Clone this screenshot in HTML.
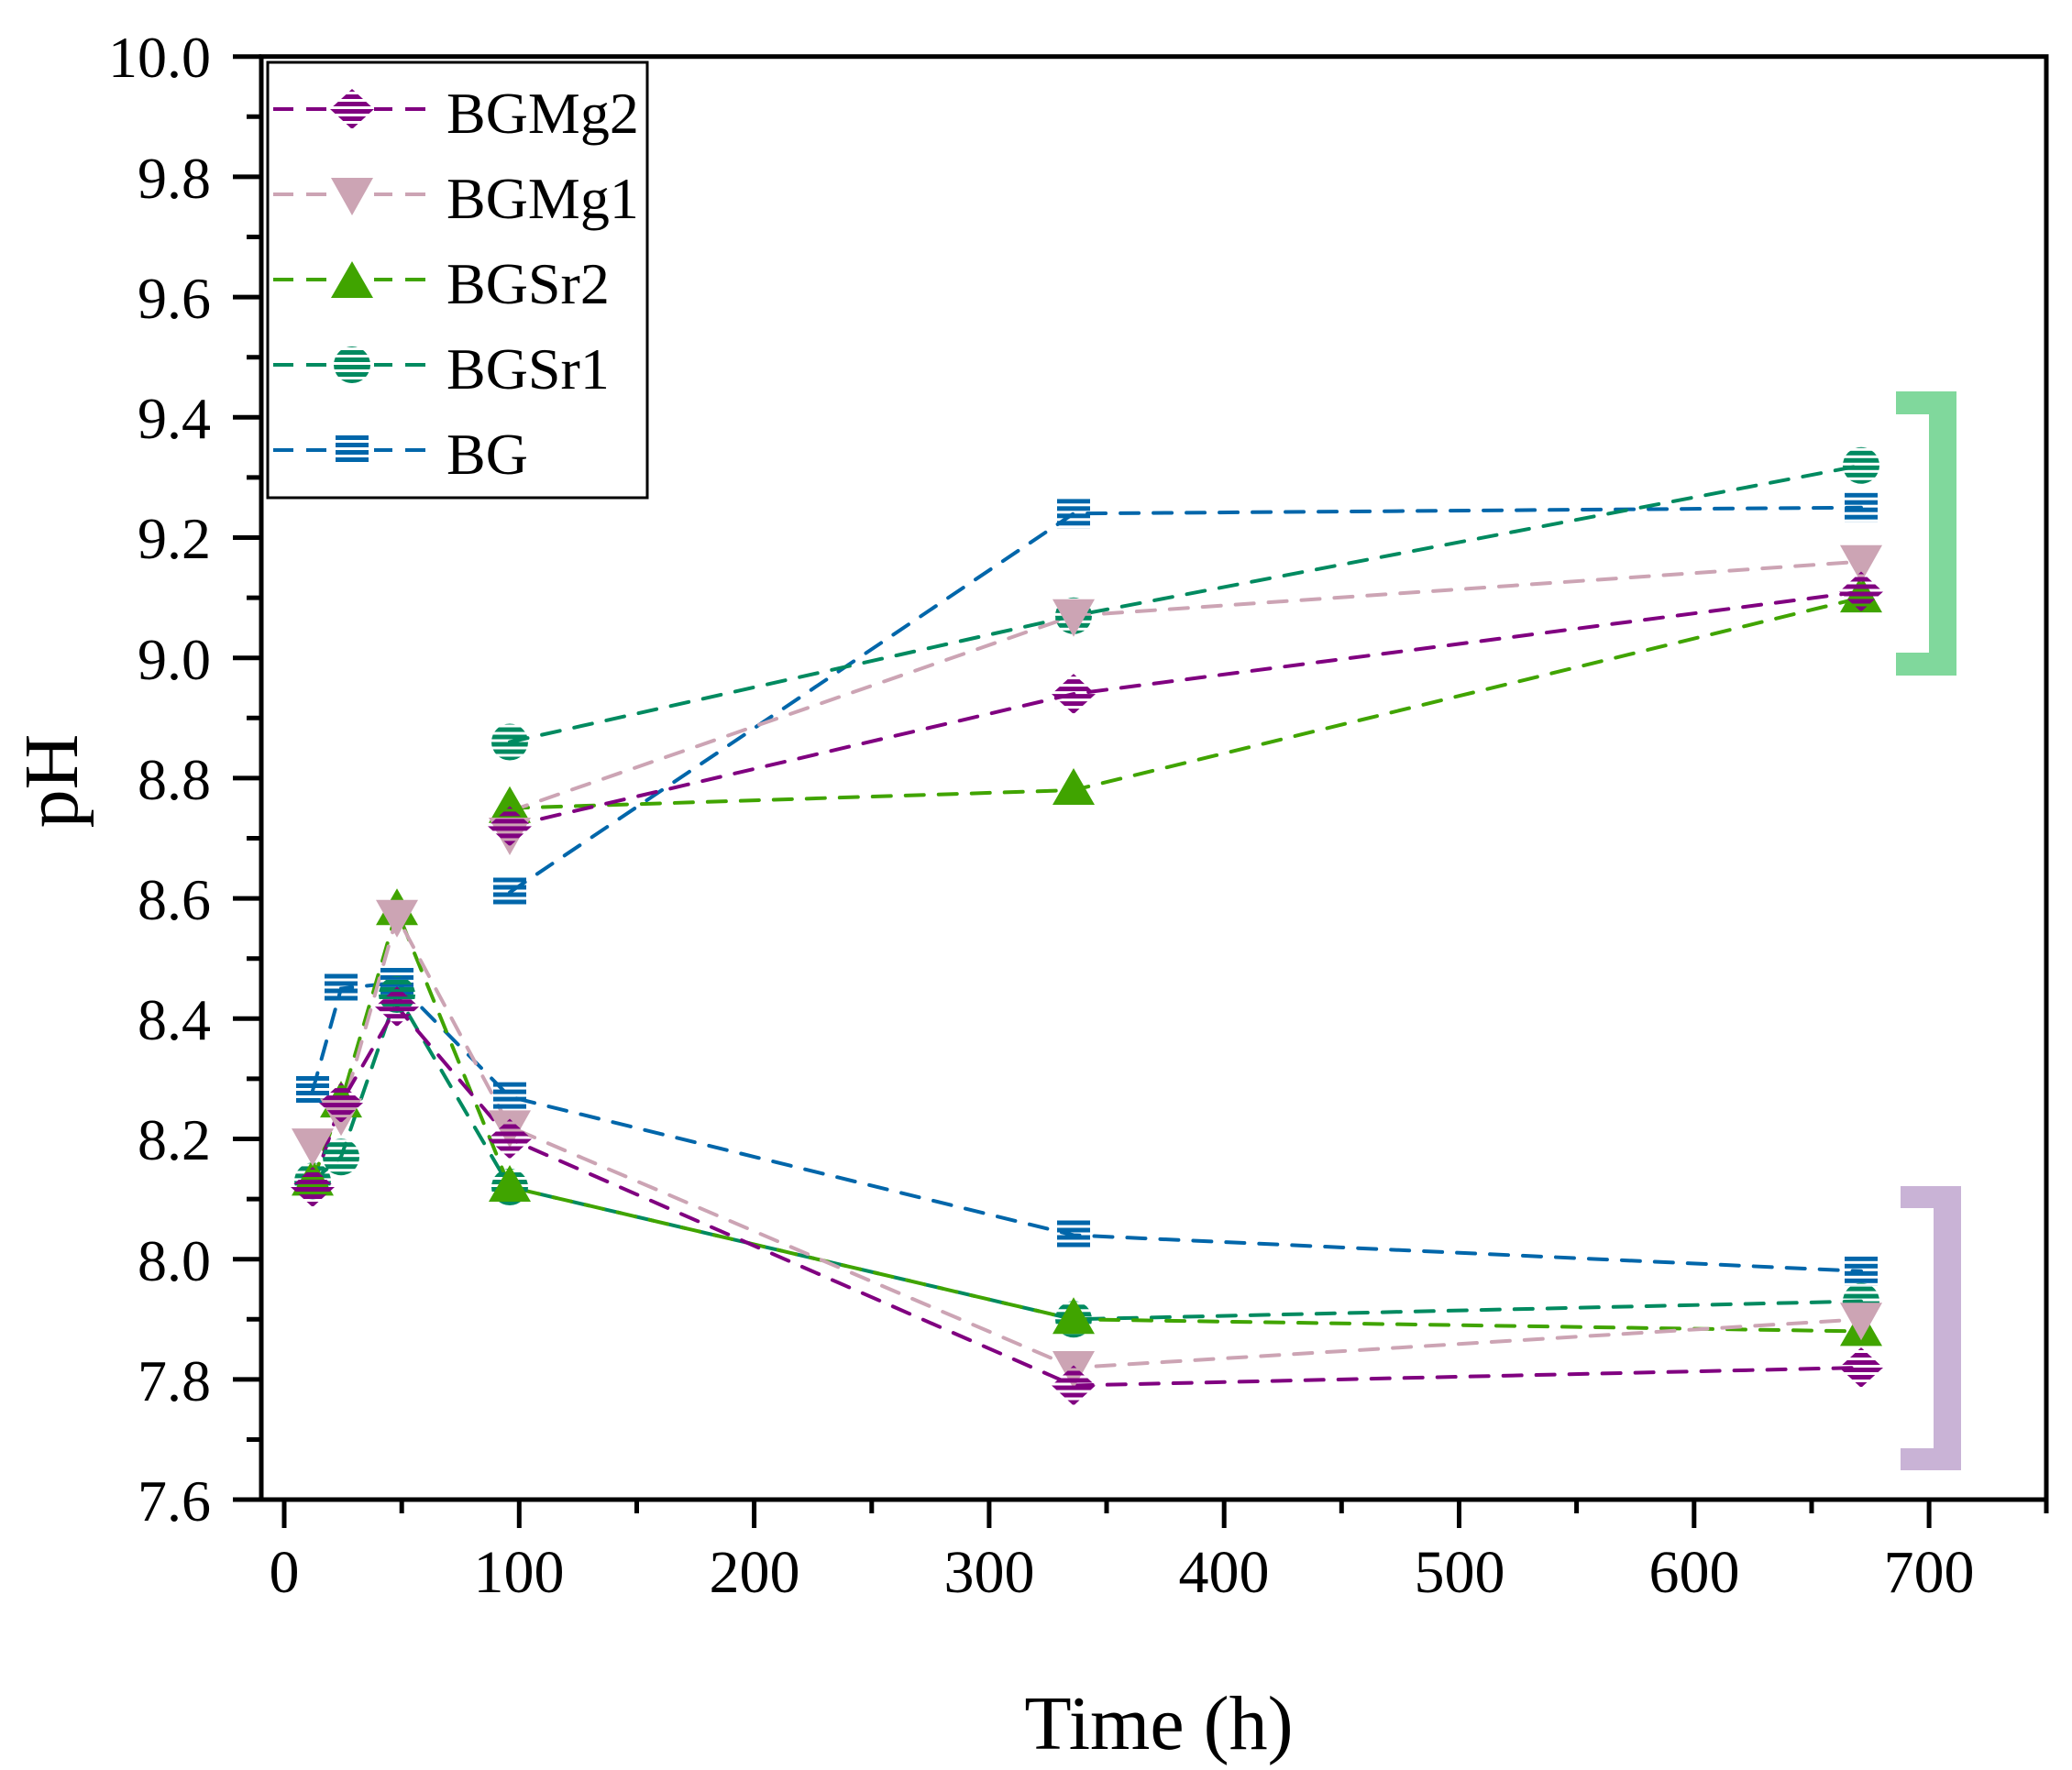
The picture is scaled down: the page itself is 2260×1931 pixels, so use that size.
<!DOCTYPE html>
<html><head><meta charset="utf-8"><style>
html,body{margin:0;padding:0;background:#fff;}
svg{display:block;}
text{font-family:"Liberation Serif",serif;fill:#000;}
</style></head><body>
<svg width="2260" height="1931" viewBox="0 0 2260 1931" xmlns="http://www.w3.org/2000/svg">
<defs>
<pattern id="pP" width="8" height="8" patternUnits="userSpaceOnUse"><rect width="8" height="5" fill="#800080"/></pattern>
<pattern id="pT" width="8" height="8" patternUnits="userSpaceOnUse"><rect width="8" height="5" fill="#008a60"/></pattern>
<pattern id="pB" width="8" height="8" patternUnits="userSpaceOnUse"><rect width="8" height="5" fill="#0066aa"/></pattern>
<path id="mD" d="M0,-22 L24,0 L0,22 L-24,0 Z" fill="url(#pP)"/>
<path id="mV" d="M-23,-18 L23,-18 L0,23 Z" fill="#cca4b4"/>
<path id="mA" d="M0,-24 L23,16 L-23,16 Z" fill="#40a400"/>
<circle id="mC" r="20" fill="url(#pT)"/>
<rect id="mS" x="-18" y="-16" width="36" height="32" fill="url(#pB)"/>
</defs>

<!-- brackets -->
<path d="M2068,427 H2134 V737 H2068 V712 H2104 V452 H2068 Z" fill="#80d89c"/>
<path d="M2073,1294 H2139 V1604 H2073 V1580 H2109 V1318 H2073 Z" fill="#c9b3d6"/>

<g fill="none" stroke-width="4" stroke-dasharray="20,16" stroke-linecap="round">
<!-- BG -->
<polyline stroke="#0066aa" points="341,1190 372,1078.5 433,1071.9 556,1196.6 1171,1347.5 2030,1386.8"/>
<polyline stroke="#0066aa" points="556,973.5 1171,560.3 2030,553.7"/>
<!-- BGSr1 -->
<polyline stroke="#008a60" points="341,1288.4 372,1262.2 433,1085 556,1295 1171,1439.3 2030,1419.6"/>
<polyline stroke="#008a60" points="556,809.5 1171,671.8 2030,507.8"/>
<!-- BGSr2 -->
<polyline stroke="#40a400" points="341,1288.4 372,1203.1 433,993.2 556,1295 1171,1439.3 2030,1452.4"/>
<polyline stroke="#40a400" points="556,881.7 1171,862 2030,652.1"/>
<!-- BGMg1 -->
<polyline stroke="#cca4b4" points="341,1249.1 372,1216.3 433,999.8 556,1229.4 1171,1492 2030,1439.3"/>
<polyline stroke="#cca4b4" points="556,885 1171,671.8 2030,612.7"/>
<!-- BGMg2 -->
<polyline stroke="#800080" points="341,1295 372,1203.1 433,1098.2 556,1242.5 1171,1511.5 2030,1492"/>
<polyline stroke="#800080" points="556,901.4 1171,757.1 2030,645.5"/>
</g>

<!-- markers BG -->
<g>
<use href="#mS" x="341" y="1190"/><use href="#mS" x="372" y="1078.5"/><use href="#mS" x="433" y="1071.9"/><use href="#mS" x="556" y="1196.6"/><use href="#mS" x="1171" y="1347.5"/><use href="#mS" x="2030" y="1386.8"/>
<use href="#mS" x="556" y="973.5"/><use href="#mS" x="1171" y="560.3"/><use href="#mS" x="2030" y="553.7"/>
</g>
<g>
<use href="#mC" x="341" y="1288.4"/><use href="#mC" x="372" y="1262.2"/><use href="#mC" x="433" y="1085"/><use href="#mC" x="556" y="1295"/><use href="#mC" x="1171" y="1439.3"/><use href="#mC" x="2030" y="1419.6"/>
<use href="#mC" x="556" y="809.5"/><use href="#mC" x="1171" y="671.8"/><use href="#mC" x="2030" y="507.8"/>
</g>
<g>
<use href="#mA" x="341" y="1288.4"/><use href="#mA" x="372" y="1203.1"/><use href="#mA" x="433" y="993.2"/><use href="#mA" x="556" y="1295"/><use href="#mA" x="1171" y="1439.3"/><use href="#mA" x="2030" y="1452.4"/>
<use href="#mA" x="556" y="881.7"/><use href="#mA" x="1171" y="862"/><use href="#mA" x="2030" y="652.1"/>
</g>
<g>
<use href="#mV" x="341" y="1249.1"/><use href="#mV" x="372" y="1216.3"/><use href="#mV" x="433" y="999.8"/><use href="#mV" x="556" y="1229.4"/><use href="#mV" x="1171" y="1492"/><use href="#mV" x="2030" y="1439.3"/>
<use href="#mV" x="556" y="910"/><use href="#mV" x="1171" y="671.8"/><use href="#mV" x="2030" y="612.7"/>
</g>
<g>
<use href="#mD" x="341" y="1295"/><use href="#mD" x="372" y="1203.1"/><use href="#mD" x="433" y="1098.2"/><use href="#mD" x="556" y="1242.5"/><use href="#mD" x="1171" y="1511.5"/><use href="#mD" x="2030" y="1492"/>
<use href="#mD" x="556" y="901.4"/><use href="#mD" x="1171" y="757.1"/><use href="#mD" x="2030" y="645.5"/>
</g>

<!-- axes frame -->
<g stroke="#000" fill="none">
<rect x="285" y="61.7" width="1947" height="1574.3" stroke-width="5"/>
<!-- y major ticks -->
<path stroke-width="5" d="M254,61.7H285 M254,192.9H285 M254,324.1H285 M254,455.3H285 M254,586.5H285 M254,717.7H285 M254,848.9H285 M254,980.1H285 M254,1111.3H285 M254,1242.5H285 M254,1373.7H285 M254,1504.9H285 M254,1636H285"/>
<path stroke-width="5" d="M269,127.3H285 M269,258.5H285 M269,389.7H285 M269,520.9H285 M269,652.1H285 M269,783.3H285 M269,914.5H285 M269,1045.7H285 M269,1176.9H285 M269,1308.1H285 M269,1439.3H285 M269,1570.5H285"/>
<!-- x ticks -->
<path stroke-width="5" d="M310,1636V1667 M566.3,1636V1667 M822.6,1636V1667 M1078.9,1636V1667 M1335.2,1636V1667 M1591.5,1636V1667 M1847.8,1636V1667 M2104.1,1636V1667"/>
<path stroke-width="5" d="M438.2,1636V1651 M694.5,1636V1651 M950.8,1636V1651 M1207,1636V1651 M1463.3,1636V1651 M1719.6,1636V1651 M1976,1636V1651 M2232,1636V1651"/>
</g>

<!-- y labels -->
<g font-size="64" text-anchor="end">
<text x="230" y="84">10.0</text>
<text x="230" y="216">9.8</text>
<text x="230" y="347">9.6</text>
<text x="230" y="478">9.4</text>
<text x="230" y="609">9.2</text>
<text x="230" y="741">9.0</text>
<text x="230" y="872">8.8</text>
<text x="230" y="1003">8.6</text>
<text x="230" y="1134">8.4</text>
<text x="230" y="1265">8.2</text>
<text x="230" y="1397">8.0</text>
<text x="230" y="1528">7.8</text>
<text x="230" y="1659">7.6</text>
</g>
<!-- x labels -->
<g font-size="66" text-anchor="middle">
<text x="310" y="1737">0</text>
<text x="566" y="1737">100</text>
<text x="823" y="1737">200</text>
<text x="1079" y="1737">300</text>
<text x="1335" y="1737">400</text>
<text x="1592" y="1737">500</text>
<text x="1848" y="1737">600</text>
<text x="2104" y="1737">700</text>
</g>
<text x="1264" y="1908" font-size="84" text-anchor="middle">Time (h)</text>
<text transform="translate(84,852) rotate(-90)" font-size="84" text-anchor="middle">pH</text>

<!-- legend -->
<rect x="292" y="68" width="414" height="475" fill="#fff" stroke="#000" stroke-width="3"/>
<g fill="none" stroke-width="4" stroke-dasharray="22,14">
<path stroke="#800080" d="M298,119H465"/>
<path stroke="#cca4b4" d="M298,212H465"/>
<path stroke="#40a400" d="M298,305H465"/>
<path stroke="#008a60" d="M298,398H465"/>
<path stroke="#0066aa" d="M298,491H465"/>
</g>
<rect x="360" y="95" width="48" height="48" fill="#fff"/>
<rect x="360" y="188" width="48" height="48" fill="#fff"/>
<rect x="360" y="281" width="48" height="48" fill="#fff"/>
<rect x="360" y="374" width="48" height="48" fill="#fff"/>
<rect x="360" y="467" width="48" height="48" fill="#fff"/>
<use href="#mD" x="384" y="119"/>
<use href="#mV" x="384" y="212"/>
<use href="#mA" x="384" y="309"/>
<use href="#mC" x="384" y="398"/>
<use href="#mS" x="384" y="491"/>
<g font-size="64">
<text x="487" y="145">BGMg2</text>
<text x="487" y="238">BGMg1</text>
<text x="487" y="331">BGSr2</text>
<text x="487" y="424">BGSr1</text>
<text x="487" y="517">BG</text>
</g>
</svg>
</body></html>
